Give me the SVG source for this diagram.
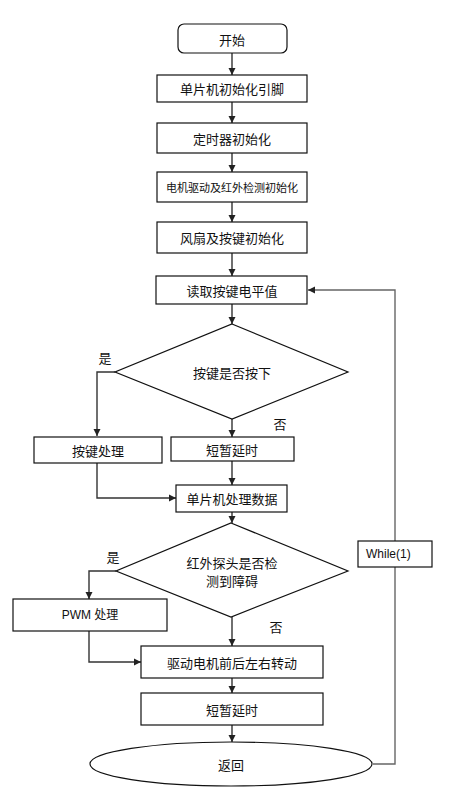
<svg xmlns="http://www.w3.org/2000/svg" width="451" height="805" viewBox="0 0 451 805">
<defs>
<marker id="ah" markerWidth="8" markerHeight="8" refX="7" refY="4" orient="auto" markerUnits="userSpaceOnUse">
<path d="M0,0.5 L7,4 L0,7.5 Z" fill="#222"/>
</marker>
<style>
.n{fill:#fff;stroke:#111;stroke-width:1.2}
.t{font-family:"Noto Sans CJK SC","Liberation Sans",sans-serif;font-size:13px;fill:#111;text-anchor:middle;dominant-baseline:central}
.c{fill:none;stroke:#333;stroke-width:1.4;marker-end:url(#ah)}
</style>
</defs>
<rect width="451" height="805" fill="#fff"/>
<g id="connectors">
<path class="c" d="M232,53 V75"/>
<path class="c" d="M232,102 V123"/>
<path class="c" d="M232,153 V172"/>
<path class="c" d="M232,202 V222"/>
<path class="c" d="M232,253 V276"/>
<path class="c" d="M232,304 V324"/>
<path class="c" d="M232,419 V437"/>
<path class="c" d="M115,372 H97 V436"/>
<path class="c" d="M97,463 V498 H176"/>
<path class="c" d="M232,461 V485"/>
<path class="c" d="M232,512 V523"/>
<path class="c" d="M116,571 H89 V599"/>
<path class="c" d="M232,617 V646"/>
<path class="c" d="M89,631 V662 H141"/>
<path class="c" d="M232,678 V693"/>
<path class="c" d="M232,725 V742"/>
<path class="c" style="stroke:#666" d="M373,764 H395 V290 H308"/>
</g>
<g id="start"><rect class="n" x="178" y="24" width="109" height="29" rx="6"/><text class="t" x="232" y="39">开始</text></g>
<g id="initPins"><rect class="n" x="157" y="75" width="150" height="27"/><text class="t" x="232" y="88.5">单片机初始化引脚</text></g>
<g id="initTimer"><rect class="n" x="157" y="123" width="150" height="30"/><text class="t" x="232" y="138">定时器初始化</text></g>
<g id="initMotor"><rect class="n" x="157" y="172" width="150" height="30"/><text class="t" x="232" y="187" style="font-size:11px">电机驱动及红外检测初始化</text></g>
<g id="initFan"><rect class="n" x="157" y="222" width="150" height="31"/><text class="t" x="232" y="237.5">风扇及按键初始化</text></g>
<g id="readKey"><rect class="n" x="156" y="276" width="151" height="28"/><text class="t" x="232" y="290">读取按键电平值</text></g>
<g id="keyPressed"><polygon class="n" points="232,324 348,372 232,419 115,372"/><text class="t" x="232" y="372">按键是否按下</text></g>
<g id="keyProc"><rect class="n" x="34" y="437" width="128" height="26"/><text class="t" x="98" y="450">按键处理</text></g>
<g id="delay1"><rect class="n" x="171" y="437" width="123" height="24"/><text class="t" x="232" y="449">短暂延时</text></g>
<g id="mcuProc"><rect class="n" x="176" y="485" width="111" height="27"/><text class="t" x="232" y="498.5">单片机处理数据</text></g>
<g id="irDetect"><polygon class="n" points="231,523 348,571 231,617 116,571"/><text class="t" x="232" y="562">红外探头是否检</text><text class="t" x="232" y="580">测到障碍</text></g>
<g id="pwm"><rect class="n" x="13" y="599" width="154" height="32"/><text class="t" x="90" y="615" style="font-family:'Liberation Sans','Noto Sans CJK SC',sans-serif;font-size:12px">PWM 处理</text></g>
<g id="drive"><rect class="n" x="141" y="646" width="182" height="32"/><text class="t" x="232" y="662">驱动电机前后左右转动</text></g>
<g id="delay2"><rect class="n" x="141" y="693" width="182" height="32"/><text class="t" x="232" y="709">短暂延时</text></g>
<g id="ret"><ellipse class="n" cx="231" cy="764" rx="141" ry="22"/><text class="t" x="231" y="764">返回</text></g>
<g id="while"><rect class="n" x="358" y="541" width="74" height="26"/><text class="t" x="366" y="554" style="font-family:'Liberation Sans',sans-serif;font-size:12px;text-anchor:start">While(1)</text></g>
<g id="labels">
<text class="t" x="105" y="357">是</text>
<text class="t" x="280" y="423">否</text>
<text class="t" x="113" y="556">是</text>
<text class="t" x="276" y="626">否</text>
</g>
</svg>
